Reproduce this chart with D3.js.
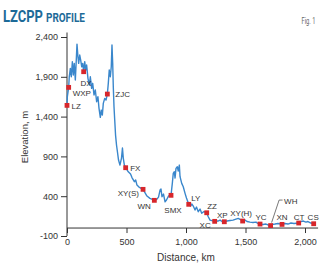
<!DOCTYPE html>
<html><head><meta charset="utf-8">
<script src="https://cdn.jsdelivr.net/npm/d3@7"></script>
<style>
body{margin:0;background:#fff;}
svg{display:block;}
</style></head>
<body>
<svg id="c" width="325" height="266"></svg>
<script>
// ---- data ----
const profileDistance = [0,3,14,19,28,36,45,53,61,70,78,84,92,98,107,115,124,132,140,149,157,165,176,188,196,207,216,227,238,249,260,269,280,288,297,305,317,328,339,347,355,364,372,378,384,389,395,401,408,416,424,433,445,458,466,473,482,493,515,534,546,566,577,588,605,639,655,672,697,717,734,754,769,782,790,798,811,824,836,853,874,885,893,902,908,916,927,935,944,950,964,977,992,1004,1023,1038,1050,1061,1076,1088,1103,1118,1132,1151,1174,1187,1202,1218,1241,1269,1286,1303,1322,1345,1370,1395,1420,1439,1458,1476,1496,1513,1538,1563,1588,1605,1622,1647,1672,1693,1706,1711,1723,1748,1773,1807,1832,1857,1882,1908,1947,1966,1986,2008,2025,2050,2073];
const profileElevation = [1541,1650,1767,1901,2006,1901,2090,1922,2069,1859,2110,2311,2152,2069,2173,2110,2026,2069,1964,2090,1985,2048,1881,1796,1901,1755,1818,1671,1734,1587,1650,1504,1391,1482,1420,1566,1629,1608,1683,1818,1985,1901,2026,2299,2069,1775,1524,1357,1168,1043,955,854,791,879,1005,879,791,758,707,678,634,582,603,540,515,486,446,402,373,360,348,360,389,477,490,393,427,330,352,402,411,561,687,707,628,750,770,716,791,645,561,519,436,377,298,276,302,276,226,264,205,239,185,207,192,142,100,94,84,88,100,82,79,88,94,100,113,122,107,88,100,82,75,69,75,57,50,44,50,38,6,31,44,50,57,46,57,50,63,57,63,82,88,75,82,63,54];

const stationNames = ["LZ","WXP","DX","ZJC","FX","XY(S)","WN","SMX","LY","ZZ","XC","XP","XY(H)","YC","WH","XN","CT","CS"];
const stationDistance = [0,14,140,339,493,639,734,874,1023,1174,1241,1322,1476,1622,1711,1807,1947,2073];
const stationElevation = [1541,1767,1964,1683,758,486,348,411,298,192,84,79,88,50,31,46,63,54];

const yTicks = [-100,400,900,1400,1900,2400];
const xTicks = [0,500,1000,1500,2000];

// ---- label placement (layout only) ----
const labelPlace = {
  "LZ":[4.5,3.5,"start"],"WXP":[4,9,"start"],"DX":[2.5,14,"middle"],"ZJC":[8,3,"start"],
  "FX":[4.5,3.5,"start"],"XY(S)":[-4,7,"end"],"WN":[-3.5,9,"end"],"SMX":[2,17.5,"middle"],
  "LY":[2.5,-3,"start"],"ZZ":[0.5,-3.5,"start"],"XC":[-4,6.5,"end"],"XP":[-2,-4,"middle"],
  "XY(H)":[-1.5,-5.5,"middle"],"YC":[1,-4,"middle"],"WH":[13.5,-22,"start"],"XN":[0,-4,"middle"],
  "CT":[0.5,-3.5,"middle"],"CS":[-0.5,-4,"middle"]
};

const svg = d3.select("#c");
const font = "'Liberation Sans', Arial, sans-serif";
const x = d3.scaleLinear().domain([0,2000]).range([67,305]);
const y = d3.scaleLinear().domain([-100,2400]).range([236,37]);

// condensed text via horizontal scale
const tf = "'Roboto', 'Liberation Sans', sans-serif";
function condensed(txt, x0, y0, size, width, weight, fill){
  const g = svg.append("g");
  const t = g.append("text").attr("x",0).attr("y",0)
    .attr("font-family",tf).attr("font-weight",weight).attr("font-size",size+"px")
    .attr("fill",fill).text(txt);
  const w = t.node().getComputedTextLength();
  g.attr("transform",`translate(${x0},${y0}) scale(${width/w},1)`);
}
condensed("LZCPP",3,22,17,40,"bold","#1d6a98");
condensed("PROFILE",46,22,12.5,39,"bold","#1d6a98");
condensed("Fig. 1",301.5,23.5,8.5,14,"normal","#666");

const axColor = "#333";
// y axis
const yAxis = d3.axisLeft(y).tickValues(yTicks).tickSize(6).tickPadding(3)
  .tickFormat(d => d3.format(",")(d).replace("\u2212","-"));
const gy = svg.append("g").attr("transform","translate(67,0)").call(yAxis);
gy.select(".domain").remove();
gy.append("line").attr("x1",0).attr("x2",0).attr("y1",y(-100)).attr("y2",32.5).attr("stroke",axColor);
// x axis
const xAxis = d3.axisBottom(x).tickValues(xTicks).tickSize(5).tickPadding(6).tickFormat(d3.format(","));
const gx = svg.append("g").attr("transform",`translate(0,${y(0)})`).call(xAxis);
gx.select(".domain").remove();
gx.append("line").attr("x1",x(0)).attr("x2",x(2110)).attr("y1",0).attr("y2",0).attr("stroke",axColor);
[gx,gy].forEach(g=>{
  g.selectAll(".tick line").attr("stroke",axColor);
  g.selectAll("text").attr("font-family",font).attr("font-size","9px").attr("fill","#333");
});

// axis titles
svg.append("text").attr("x",186).attr("y",260.5).attr("text-anchor","middle")
  .attr("font-family",font).attr("font-size","10px").attr("fill","#333").text("Distance, km");
svg.append("text").attr("transform","translate(27.5,137) rotate(-90)").attr("text-anchor","middle")
  .attr("font-family",font).attr("font-size","9.5px").attr("fill","#333").text("Elevation, m");

// profile line
const pts = profileDistance.map((d,i)=>[d,profileElevation[i]]);
svg.append("path").datum(pts)
  .attr("d",d3.line().x(d=>x(d[0])).y(d=>y(d[1])))
  .attr("fill","none").attr("stroke","#3a87cc").attr("stroke-width",1.4).attr("stroke-linejoin","round");

// stations
const st = stationNames.map((n,i)=>({n,d:stationDistance[i],e:stationElevation[i]}));
const ms = 4.8;
svg.selectAll("rect.st").data(st).enter().append("rect")
  .attr("x",d=>x(d.d)-ms/2).attr("y",d=>y(d.e)-ms/2).attr("width",ms).attr("height",ms)
  .attr("fill","#d7262b");
// WH leader
const wh = st.find(s=>s.n==="WH");
svg.append("polyline")
  .attr("points",`${x(wh.d)+1},${y(wh.e)-3} ${x(wh.d)+8.5},${y(wh.e)-25.5} ${x(wh.d)+12},${y(wh.e)-25.5}`)
  .attr("fill","none").attr("stroke","#555").attr("stroke-width",0.8);
svg.selectAll("text.lab").data(st).enter().append("text")
  .attr("x",d=>x(d.d)+labelPlace[d.n][0]).attr("y",d=>y(d.e)+labelPlace[d.n][1])
  .attr("text-anchor",d=>labelPlace[d.n][2])
  .attr("font-family",font).attr("font-size","8px").attr("fill","#333").text(d=>d.n);
</script>
</body></html>
